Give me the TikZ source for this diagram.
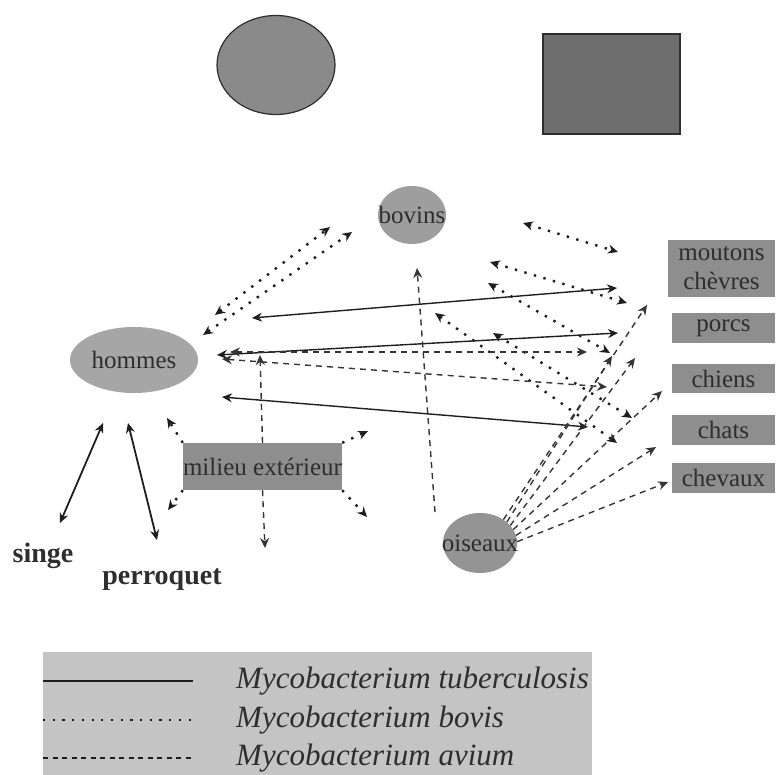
\documentclass[tikz,border=0pt]{standalone}
\usepackage{fontspec}
\setmainfont{Liberation Serif}
\usetikzlibrary{arrows.meta,shapes.geometric}
\definecolor{trait}{HTML}{1E1E1E}
\definecolor{encre}{HTML}{2E2E2E}
\definecolor{grisbox}{HTML}{8E8E8E}
\definecolor{grisleg}{HTML}{C4C4C4}
\newcommand{\lblfont}{\fontsize{25}{29}\selectfont}
\newcommand{\legfont}{\fontsize{31}{33}\selectfont\itshape}

\begin{document}
\begin{tikzpicture}[x=1pt,y=-1pt,>={Stealth[length=10pt,width=9pt]},
    blob/.style={ellipse,inner sep=0pt},
    boite/.style={rectangle,fill=grisbox,inner sep=0pt,text=encre,font=\lblfont},
    lbl/.style={text=encre,font=\lblfont},
    tub/.style={trait,line width=1.4pt},
    bov/.style={trait,line width=2.4pt,dash pattern=on 2.4pt off 7.5pt},
    avi/.style={trait!90!white,line width=1.4pt,dash pattern=on 6pt off 5pt}]
  \useasboundingbox (0,0) rectangle (778,775);
  % formes du haut
  \node[blob,draw=encre,line width=1.2pt,fill=black!46,minimum width=118pt,minimum height=99pt] (rond) at (276,65) {};
  \node[draw=encre,line width=1.2pt,fill=black!57,minimum width=137pt,minimum height=100pt] (carre) at (611.5,84) {};
  % hotes
  \node[blob,fill=black!38,minimum width=68pt,minimum height=58pt,label={[lbl]center:bovins}] (bovins) at (412,215) {};
  \node[blob,fill=black!35,minimum width=128pt,minimum height=66pt,label={[lbl]center:hommes}] (hommes) at (134,360) {};
  \node[blob,fill=black!42,minimum width=74pt,minimum height=60pt,label={[lbl]center:oiseaux}] (oiseaux) at (480,543) {};
  \node[boite,minimum width=159pt,minimum height=47pt] (milieu) at (262.5,466.5) {milieu extérieur};
  \node[boite,minimum width=107pt,minimum height=57pt,align=center] (moutons) at (721.5,268.5) {moutons\\chèvres};
  \foreach \n/\y/\h in {porcs/328/30,chiens/378.5/29,chats/430/30,chevaux/478/30}
    \node[boite,minimum width=103pt,minimum height=\h pt] (\n) at (723.5,\y) {\n};
  \node[text=encre,font=\fontsize{28}{30}\selectfont\bfseries] (singe) at (43,556) {singe};
  \node[text=encre,font=\fontsize{28}{30}\selectfont\bfseries] (perroquet) at (162,580) {perroquet};

  % bouts des fleches
  \foreach \n/\x/\y in {hb1/215/315,bh1/330/227,hb2/203/335,bh2/352/232,
      bm1/523/223,mb1/618/252,bm2/490/262,mb2/627/303,bp/488/283,pb/610/353,
      bc/435/313,cb/617/443,bn/493/333,nb/632/418,
      hm/252/318,mh/617/288,hp/217/355,ph/618/333,hc/222/397,ch/588/427,
      hs/103/423,sh/60/523,hq/128/423,qh/157/540,
      ha1/230/352,ah1/587/352,ha2/222/359,ah2/607/387,ob/435/512,bo/417/268,
      mu/260/355,md/265/548,om/647/305,op1/612/356,op2/635/358,on/662/391,oc/656/447,ov/668/482,
      e1/167/418,e2/168/510,e3/368/431,e4/367/517}
    \coordinate (\n) at (\x,\y);

  % M. bovis
  \foreach \a/\b in {hb1/bh1,hb2/bh2,bm1/mb1,bm2/mb2,bp/pb,bc/cb,bn/nb}
    \draw[bov,<->] (\a) -- (\b);
  \foreach \c/\b in {north west/e1,south west/e2,north east/e3,south east/e4}
    \draw[bov,->] (milieu.\c) -- (\b);
  % M. tuberculosis
  \foreach \a/\b in {hm/mh,hp/ph,hc/ch}
    \draw[tub,<->] (\a) -- (\b);
  \draw[tub,line width=1.8pt,<->] (hs) -- (sh);
  \draw[tub,line width=1.8pt,<->] (hq) -- (qh);
  % M. avium
  \foreach \a/\b in {ha1/ah1,ha2/ah2}
    \draw[avi,<->] (\a) -- (\b);
  \draw[avi,->] (ob) -- (bo);
  \draw[avi,->] (milieu.north) -- (mu);
  \draw[avi,->] (milieu.south) -- (md);
  \foreach \ang/\b in {45/om,38/op1,30/op2,22/on,12/oc,2/ov}
    \draw[avi,->] (oiseaux.\ang) -- (\b);

  % legende
  \node[fill=grisleg,inner sep=0pt,minimum width=549pt,minimum height=123pt] (legende) at (317.5,713.5) {};
  \foreach \n/\y in {lt/681,lb/720,la/758} {
    \coordinate (\n1) at (43,\y);
    \coordinate (\n2) at (193,\y);
  }
  \draw[tub] (lt1) -- (lt2);
  \draw[trait,line width=1.8pt,dash pattern=on 2.2pt off 7.5pt] (lb1) -- (lb2);
  \draw[trait,line width=1.4pt,dash pattern=on 5pt off 4.5pt] (la1) -- (la2);
  \foreach \y/\t in {681/tuberculosis,720/bovis,758/avium}
    \node[anchor=west,inner sep=0pt,text=encre,font=\legfont] (m-\t) at (236,\y) {Mycobacterium \t};
\end{tikzpicture}
\end{document}
